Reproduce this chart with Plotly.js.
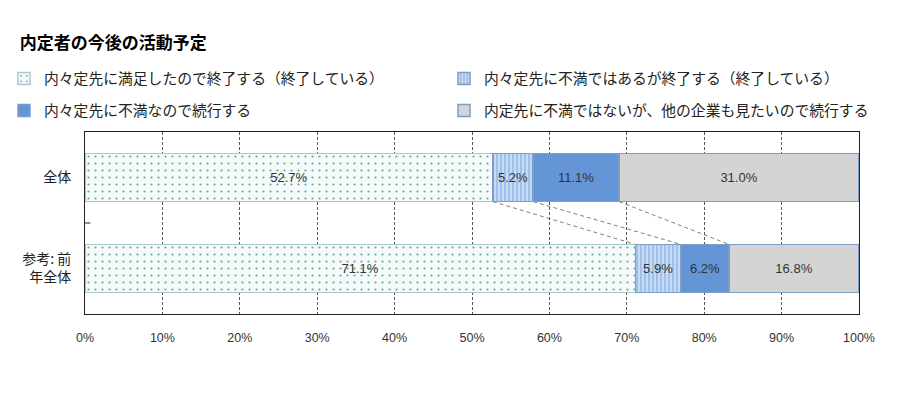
<!DOCTYPE html>
<html>
<head>
<meta charset="utf-8">
<script src="https://cdn.plot.ly/plotly-3.0.1.min.js"></script>
<style>html,body{margin:0;padding:0;background:#fff}#chart{width:900px;height:394px}</style>
</head>
<body>
<div id="chart"></div>
<script>
// ---- data ----
const categories = ["全体", "参考: 前<br>年全体"];
const seriesNames = [
  "内々定先に満足したので終了する（終了している）",
  "内々定先に不満ではあるが終了する（終了している）",
  "内々定先に不満なので続行する",
  "内定先に不満ではないが、他の企業も見たいので続行する"
];
const s1 = [52.7, 71.1];
const s2 = [5.2, 5.9];
const s3 = [11.1, 6.2];
const s4 = [31.0, 16.8];
const xTickVals = [0, 10, 20, 30, 40, 50, 60, 70, 80, 90, 100];
const xTickText = ["0%", "10%", "20%", "30%", "40%", "50%", "60%", "70%", "80%", "90%", "100%"];
const chartTitle = "内定者の今後の活動予定";

// ---- styles ----
const jp = '"Noto Sans CJK JP", "Noto Sans", sans-serif';
const seriesValues = [s1, s2, s3, s4];
const markers = [
  {color: '#f5fbfb', line: {color: '#a9c6cc', width: 1.5},
   pattern: {shape: '.', fgcolor: '#6aa596', bgcolor: '#f5fbfb', size: 7, solidity: 0.08, fillmode: 'replace'}},
  {color: '#a4c4ec', line: {color: '#7d9cc6', width: 1.5},
   pattern: {shape: '|', fgcolor: '#e2ecf9', bgcolor: '#9fc0ea', size: 4, solidity: 0.3, fillmode: 'replace'}},
  {color: '#6495d6', line: {color: '#7d9cc6', width: 1.5}},
  {color: '#d4d4d4', line: {color: '#7d9cc6', width: 1.5}}
];
const legendIds = ['legend', 'legend2', 'legend3', 'legend4'];
// legend placement (container pixels): [x, y]
const legendPos = [[4, 79], [444, 79], [4, 111], [444, 111]];
const barFrac = 0.53;

const traces = seriesValues.map((vals, i) => ({
  type: 'bar',
  orientation: 'h',
  name: seriesNames[i],
  y: [0, 1],
  x: vals,
  text: vals.map(v => v.toFixed(1) + '%'),
  textposition: 'inside',
  insidetextanchor: 'middle',
  textangle: 0,
  textfont: {family: 'Arial, "Liberation Sans", sans-serif', size: 13, color: '#333'},
  constraintext: 'none',
  marker: markers[i],
  legend: legendIds[i],
  hoverinfo: 'skip'
}));

// connector lines between cumulative boundaries
const shapes = [];
let c0 = 0, c1 = 0;
for (let i = 0; i < seriesValues.length - 1; i++) {
  c0 += seriesValues[i][0];
  c1 += seriesValues[i][1];
  shapes.push({type: 'line', xref: 'x', yref: 'y',
    x0: c0, y0: barFrac / 2, x1: c1, y1: 1 - barFrac / 2,
    line: {color: '#808080', width: 1, dash: '4px,3px'}, layer: 'below'});
}
shapes.push({type: 'line', xref: 'paper', yref: 'y', x0: 0, x1: 0.007, y0: 0.5, y1: 0.5,
  line: {color: '#222', width: 1}});

const layout = {
  width: 900, height: 394,
  margin: {l: 85, r: 41, t: 132, b: 80, autoexpand: false},
  paper_bgcolor: '#fff', plot_bgcolor: '#fff',
  barmode: 'stack',
  bargap: 1 - barFrac,
  showlegend: true,
  title: {text: chartTitle, xref: 'container', yref: 'container', x: 0.022, xanchor: 'left',
          y: 1 - 43 / 394, yanchor: 'middle',
          font: {family: jp, size: 17, color: '#000', weight: 'bold'}},
  xaxis: {
    range: [0, 100], tickvals: xTickVals, ticktext: xTickText,
    showgrid: true, gridcolor: '#555', griddash: '3px,2px', gridwidth: 1,
    zeroline: false, showline: true, linecolor: '#222', linewidth: 1, mirror: true,
    ticks: '', ticklabelstandoff: 12,
    tickfont: {family: '"Liberation Sans Narrow", Arial, sans-serif', size: 12.5, color: '#333'},
    fixedrange: true
  },
  yaxis: {
    range: [1.5, -0.5], tickvals: [0, 1], ticktext: categories,
    showgrid: false, zeroline: false, showline: true, linecolor: '#222', linewidth: 1, mirror: true,
    ticks: '', ticklabelstandoff: 10,
    tickfont: {family: jp, size: 14, color: '#222'},
    fixedrange: true
  },
  shapes: shapes,
  font: {family: jp}
};

legendIds.forEach((id, i) => {
  layout[id] = {
    orientation: 'h', xref: 'container', yref: 'container',
    xanchor: 'left', yanchor: 'middle',
    x: legendPos[i][0] / 900, y: 1 - legendPos[i][1] / 394,
    font: {family: jp, size: 14.8, color: '#222'},
    bgcolor: 'rgba(0,0,0,0)', borderwidth: 0,
    itemwidth: 30
  };
});

Plotly.newPlot('chart', traces, layout, {displayModeBar: false, staticPlot: true});
</script>
</body>
</html>
